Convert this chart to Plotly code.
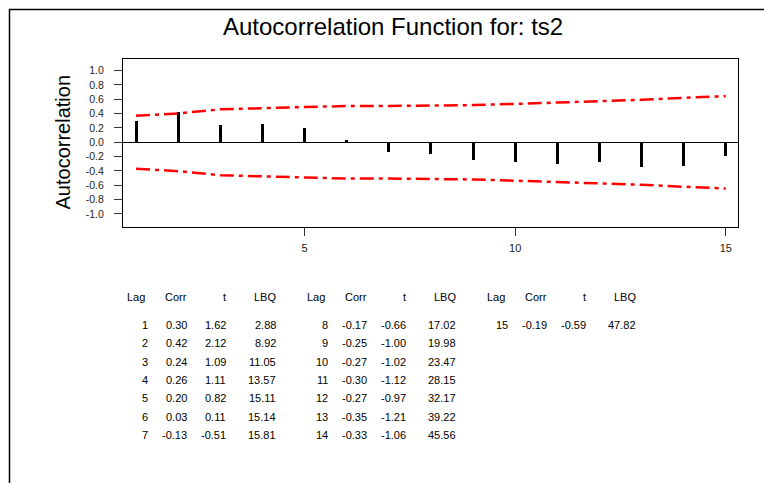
import plotly.graph_objects as go

# ---- data ----
lags = [1, 2, 3, 4, 5, 6, 7, 8, 9, 10, 11, 12, 13, 14, 15]
corr = [0.30, 0.42, 0.24, 0.26, 0.20, 0.03, -0.13, -0.17, -0.25, -0.27, -0.30, -0.27, -0.35, -0.33, -0.19]
tstat = [1.62, 2.12, 1.09, 1.11, 0.82, 0.11, -0.51, -0.66, -1.00, -1.02, -1.12, -0.97, -1.21, -1.06, -0.59]
lbq = [2.88, 8.92, 11.05, 13.57, 15.11, 15.14, 15.81, 17.02, 19.98, 23.47, 28.15, 32.17, 39.22, 45.56, 47.82]
upper_limit = [0.371, 0.403, 0.460, 0.477, 0.496, 0.507, 0.507, 0.512, 0.519, 0.536, 0.554, 0.576, 0.593, 0.621, 0.645]
lower_limit = [-0.371, -0.403, -0.460, -0.477, -0.496, -0.507, -0.507, -0.512, -0.519, -0.536, -0.554, -0.576, -0.593, -0.621, -0.645]
y_tickvals = [1.0, 0.8, 0.6, 0.4, 0.2, 0.0, -0.2, -0.4, -0.6, -0.8, -1.0]
y_ticktext = ["1.0", "0.8", "0.6", "0.4", "0.2", "0.0", "-0.2", "-0.4", "-0.6", "-0.8", "-1.0"]
x_tickvals = [5, 10, 15]
x_ticktext = ["5", "10", "15"]
title_text = "Autocorrelation Function for: ts2"
ytitle_text = "Autocorrelation"
table_headers = ["Lag", "Corr", "t", "LBQ"]

W, H = 764, 483
FONT = "Liberation Sans, Arial, sans-serif"


def px(x):
    return x / W


def py(y):
    return 1 - y / H


fig = go.Figure()

fig.add_trace(go.Bar(x=lags, y=corr, width=0.07, marker=dict(color="black", line=dict(width=0)),
                     hoverinfo="x+y", showlegend=False))
for lim in (upper_limit, lower_limit):
    fig.add_trace(go.Scatter(x=lags, y=lim, mode="lines",
                             line=dict(color="#ff0000", width=2.5, dash="14px,5px,4px,5px"),
                             showlegend=False))

annotations = []
annotations.append(dict(text=title_text, x=px(393), y=py(27), xref="paper", yref="paper",
                        xanchor="center", yanchor="middle", showarrow=False,
                        font=dict(family=FONT, size=24, color="black")))
annotations.append(dict(text=ytitle_text, x=px(63), y=py(142.5), xref="paper", yref="paper",
                        xanchor="center", yanchor="middle", showarrow=False, textangle=-90,
                        font=dict(family=FONT, size=20, color="black")))

# table layout (pixel positions of right edges of each column, group 1)
header_right = [147, 188.5, 228, 278]
value_right = [149.5, 188.5, 228, 278]
group_step = 180
header_y = 296.5
row_y0 = 325
row_dy = 18.35
tfont = dict(family=FONT, size=11, color="black")
for g in range(3):
    for c, h in enumerate(table_headers):
        annotations.append(dict(text=h, x=px(header_right[c] + g * group_step), y=py(header_y),
                                xref="paper", yref="paper", xanchor="right", yanchor="middle",
                                showarrow=False, font=tfont))
for i, lag in enumerate(lags):
    g, r = divmod(i, 7)
    vals = [str(lag), f"{corr[i]:.2f}", f"{tstat[i]:.2f}", f"{lbq[i]:.2f}"]
    for c, v in enumerate(vals):
        annotations.append(dict(text=v, x=px(value_right[c] + g * group_step),
                                y=py(row_y0 + r * row_dy),
                                xref="paper", yref="paper", xanchor="right", yanchor="middle",
                                showarrow=False, font=tfont))

shapes = [
    dict(type="rect", xref="paper", yref="paper", x0=px(9.5), x1=1.2, y0=-0.2, y1=py(9.5),
         line=dict(color="black", width=1.5), fillcolor="rgba(0,0,0,0)", layer="below"),
]

fig.update_layout(
    width=W, height=H,
    margin=dict(l=0, r=0, t=0, b=0),
    paper_bgcolor="white", plot_bgcolor="white",
    showlegend=False,
    annotations=annotations,
    shapes=shapes,
    bargap=0,
    xaxis=dict(domain=[px(123), px(738)], range=[0.69, 15.29],
               tickvals=x_tickvals, ticktext=x_ticktext,
               ticks="outside", ticklen=8, tickwidth=1, tickcolor="#333",
               showgrid=False, zeroline=False,
               showline=True, linecolor="black", linewidth=1.2, mirror=True,
               tickfont=dict(family=FONT, size=11, color="#222"), ticklabelstandoff=3),
    yaxis=dict(domain=[py(227), py(59)], range=[-1.183, 1.163],
               tickvals=y_tickvals, ticktext=y_ticktext,
               ticks="outside", ticklen=8, tickwidth=1, tickcolor="#333",
               showgrid=False, zeroline=True, zerolinecolor="black", zerolinewidth=1.2,
               showline=True, linecolor="black", linewidth=1.2, mirror=True,
               tickfont=dict(family=FONT, size=10.5, color="#222"), ticklabelstandoff=8),
)

fig.write_html("out.html", config={"displayModeBar": False},
               post_script="document.body.style.margin='0';document.body.style.overflow='hidden';")
